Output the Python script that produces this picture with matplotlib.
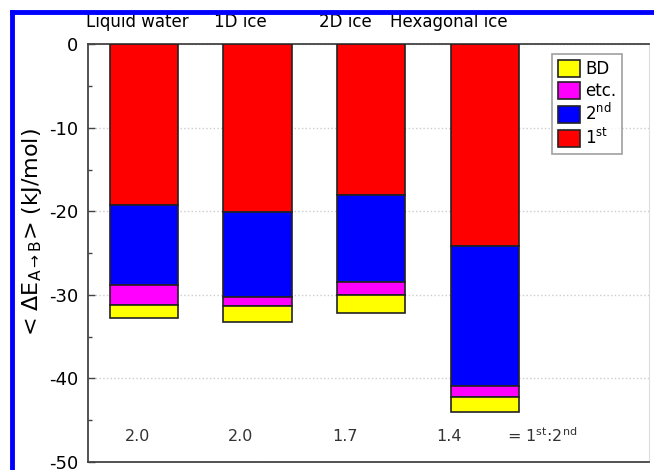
import matplotlib
matplotlib.use('Agg')
import matplotlib.pyplot as plt
from matplotlib.lines import Line2D
import numpy as np

categories = ['Liquid water', '1D ice', '2D ice', 'Hexagonal ice']
first = [19.2, 20.1, 18.0, 24.2]
second = [9.6, 10.1, 10.4, 16.7]
etc = [2.4, 1.1, 1.6, 1.3]
bd = [1.6, 1.9, 2.2, 1.8]
ratios = ['2.0', '2.0', '1.7', '1.4']

plt.rcParams['font.family'] = 'DejaVu Sans'
plt.rcParams['axes.unicode_minus'] = False
plt.rcParams['mathtext.default'] = 'regular'

fig = plt.figure(figsize=(6.54, 4.70), dpi=100)
ax = fig.add_axes([0.1346, 0.017, 0.8574, 0.889])

x = np.arange(len(categories))
w = 0.6
# stack downward from zero: 1st, 2nd, etc., BD
segs = [(first, 'red', r'1$^{st}$'),
        (second, 'blue', r'2$^{nd}$'),
        (etc, 'magenta', 'etc.'),
        (bd, 'yellow', 'BD')]
bottom = np.zeros(len(categories))
handles = []
for vals, col, lab in segs:
    v = -np.array(vals)
    b = ax.bar(x, v, w, bottom=bottom, color=col, edgecolor='#222222',
               linewidth=1.2, label=lab, zorder=3)
    bottom = bottom + v
    handles.append(b)

ax.set_xlim(-0.49, 4.44)
ax.set_ylim(-50, 0)
ax.set_yticks(np.arange(-50, 1, 10))
ax.set_yticks(np.arange(-45, 0, 10), minor=True)
ax.set_xticks([])
ax.tick_params(axis='y', which='major', direction='in', length=5, width=1,
               color='#444444', labelsize=13, pad=7)
ax.tick_params(axis='y', which='minor', direction='in', length=3, width=1,
               color='#444444')
ax.yaxis.grid(True, which='major', linestyle=':', color='#cccccc',
              linewidth=1, zorder=0)
for s in ['left', 'bottom', 'top']:
    ax.spines[s].set_color('#444444')
    ax.spines[s].set_linewidth(1.3)
ax.spines['right'].set_color('#dddddd')

ax.set_ylabel(r'< $\Delta E_{A\rightarrow B}$> (kJ/mol)', fontsize=16)
ax.yaxis.set_label_coords(-0.078, 0.55)

# category names above the plot and 1st:2nd ratios below the bars
label_x = [-0.053, 0.853, 1.77, 2.68]
for lx, name, r in zip(label_x, categories, ratios):
    ax.text(lx, 2.6, name, ha='center', va='center', fontsize=12,
            clip_on=False)
    ax.text(lx, -46.9, r, ha='center', va='center', fontsize=11.5,
            color='#333333')
ax.text(3.19, -46.9, r'= 1$^{st}$:2$^{nd}$', ha='left', va='center',
        fontsize=11.5, color='#333333')

leg = ax.legend(handles[::-1], [h.get_label() for h in handles[::-1]],
                loc='upper right', bbox_to_anchor=(0.952, 0.976),
                borderaxespad=0, fontsize=12, fancybox=False,
                edgecolor='#888888', handlelength=1.3, handleheight=1.2,
                handletextpad=0.3, labelspacing=0.2, borderpad=0.35)
leg.get_frame().set_linewidth(1.2)

# blue frame along the top and left edges
fig.add_artist(Line2D([12 / 654, 1], [1 - 12 / 470] * 2, color='blue',
                      linewidth=3.5, transform=fig.transFigure))
fig.add_artist(Line2D([12 / 654] * 2, [0, 1 - 12 / 470], color='blue',
                      linewidth=3.5, transform=fig.transFigure))

fig.savefig('out.png', dpi=100)
